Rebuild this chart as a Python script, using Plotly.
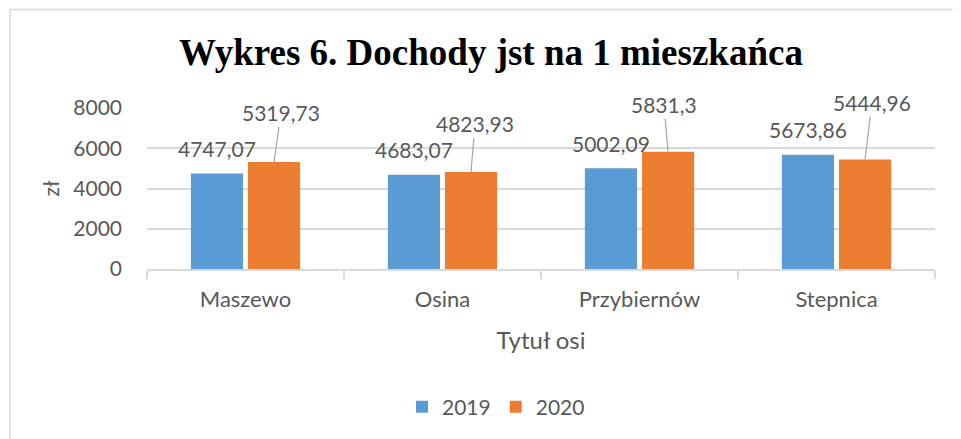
import plotly.graph_objects as go

# Dane
gminy = ["Maszewo", "Osina", "Przybiernów", "Stepnica"]
dochody_2019 = [4747.07, 4683.07, 5002.09, 5673.86]
dochody_2020 = [5319.73, 4823.93, 5831.3, 5444.96]
y_ticks = [0, 2000, 4000, 6000, 8000]

# Rozmiar i marginesy (piksele); strona html ma 8 px marginesu body
W, H = 961, 439
OFF = 8
M_L, M_T = 147 - OFF, 108 - OFF
PW, PH = 788, 161
M_R, M_B = W - M_L - PW, H - M_T - PH

FONT = "Lato, 'Open Sans', sans-serif"
SZARY = "#595959"
NIEBIESKI = "#5b9bd5"
POMARANCZOWY = "#ed7d31"

# przesunięcia etykiet 2020 (tekst względem wierzchołka słupka)
offset_2020 = [(7, -49), (4, -48), (-4, -47), (7, -57)]
BAR_SHIFT = 28.5


def fmt(v):
    s = f"{v:.2f}".rstrip("0").rstrip(".")
    return s.replace(".", ",")


fig = go.Figure()
fig.add_trace(go.Bar(x=gminy, y=dochody_2019, name="2019",
                     marker=dict(color=NIEBIESKI, line=dict(width=0))))
fig.add_trace(go.Bar(x=gminy, y=dochody_2020, name="2020",
                     marker=dict(color=POMARANCZOWY, line=dict(width=0))))

# Etykiety danych
for g, v in zip(gminy, dochody_2019):
    fig.add_annotation(x=g, y=v, xshift=-BAR_SHIFT, yshift=25, text=fmt(v),
                       showarrow=False, font=dict(family=FONT, size=21, color=SZARY))

for g, v, (ax, ay) in zip(gminy, dochody_2020, offset_2020):
    fig.add_annotation(x=g, y=v, xshift=BAR_SHIFT, text=fmt(v),
                       showarrow=True, arrowhead=0, arrowwidth=1.2, arrowcolor="#a6a6a6",
                       ax=ax, ay=ay, standoff=0,
                       font=dict(family=FONT, size=21, color=SZARY))


# Ramka wykresu (widoczna tylko góra i lewa strona)
def px_x(p):
    return (p - OFF - M_L) / PW


def px_y(p):
    return (H - M_B - (p - OFF)) / PH


fig.add_shape(type="line", xref="paper", yref="paper",
              x0=px_x(10), x1=px_x(W + 20), y0=px_y(9.5), y1=px_y(9.5),
              line=dict(color="#d9d9d9", width=1.5))
fig.add_shape(type="line", xref="paper", yref="paper",
              x0=px_x(10), x1=px_x(10), y0=px_y(9.5), y1=px_y(H + 20),
              line=dict(color="#d9d9d9", width=1.5))

fig.update_layout(
    width=W, height=H,
    margin=dict(l=M_L, r=M_R, t=M_T, b=M_B),
    paper_bgcolor="white", plot_bgcolor="white",
    font=dict(family=FONT, size=21, color=SZARY),
    title=dict(text="<b>Wykres 6. Dochody jst na 1 mieszkańca</b>",
               x=(491 - OFF) / W, xanchor="center", y=1 - (52 - OFF) / H, yanchor="middle",
               font=dict(family="'Liberation Serif', 'Times New Roman', serif",
                         size=37, color="black")),
    barmode="group", bargap=0.42, bargroupgap=0.088,
    showlegend=True,
    legend=dict(orientation="h", x=(496 - OFF) / W, xref="container", xanchor="center",
                y=1 - (407 - OFF) / H, yref="container", yanchor="middle",
                font=dict(family=FONT, size=21, color=SZARY),
                itemwidth=30, traceorder="normal"),
    xaxis=dict(
        showline=True, linecolor="#d9d9d9", linewidth=1.5,
        ticks="outside", tickson="boundaries", ticklen=8, tickcolor="#d9d9d9",
        tickwidth=1.5, ticklabelstandoff=10,
        tickfont=dict(family=FONT, size=22, color=SZARY),
        title=dict(text="Tytuł osi", standoff=21,
                   font=dict(family=FONT, size=24, color=SZARY)),
    ),
    yaxis=dict(
        range=[0, 8000], tickvals=y_ticks, ticktext=[str(t) for t in y_ticks],
        showgrid=True, gridcolor="#d9d9d9", gridwidth=1.5,
        zeroline=False, showline=False, ticks="", ticklabelstandoff=24,
        tickfont=dict(family=FONT, size=21, color=SZARY),
        title=dict(text="zł", standoff=7,
                   font=dict(family=FONT, size=21, color=SZARY)),
    ),
)

fig.write_html("out.html")
